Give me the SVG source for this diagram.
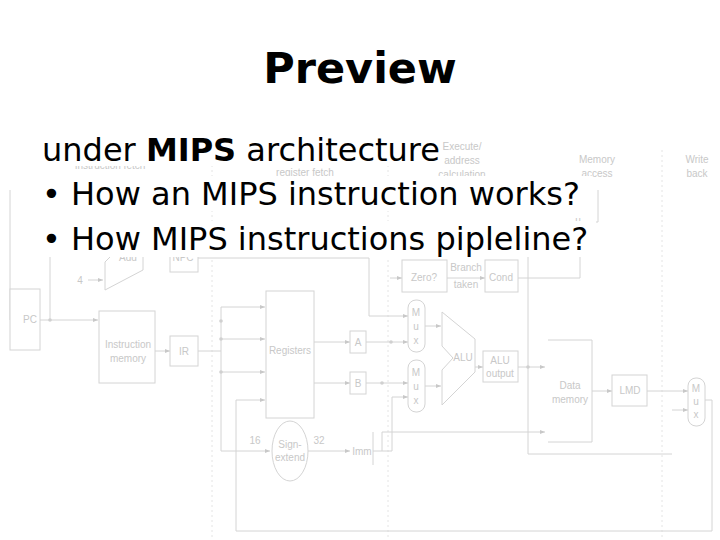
<svg xmlns="http://www.w3.org/2000/svg" width="720" height="540" viewBox="0 0 720 540">
<style>
.d{fill:none;stroke:#d4d4d4;stroke-width:1}
.b{fill:#fff;stroke:#d4d4d4;stroke-width:1}
.dash{stroke:#e4e4e4;stroke-width:1;stroke-dasharray:2 3}
.l{font-family:"Liberation Sans",Arial,sans-serif;font-size:10px;fill:#c8c8c8;text-anchor:middle}
.t{font-family:"DejaVu Sans",Verdana,sans-serif;font-size:32px;fill:#000}
</style>
<defs><marker id="a" markerWidth="6" markerHeight="6" refX="5" refY="3" orient="auto"><path d="M0,1 L5,3 L0,5z" fill="#c8c8c8"/></marker></defs>
<rect width="720" height="540" fill="#fff"/>
<g id="stages">
<line class="dash" x1="212" y1="150" x2="212" y2="540"/>
<line class="dash" x1="388" y1="150" x2="388" y2="540"/>
<line class="dash" x1="662" y1="150" x2="662" y2="540"/>
<text class="l" x="110" y="169">Instruction fetch</text>
<text class="l" x="305" y="162">Instruction decode/</text><text class="l" x="305" y="176">register fetch</text>
<text class="l" x="462" y="150">Execute/</text><text class="l" x="462" y="164">address</text><text class="l" x="462" y="178">calculation</text>
<text class="l" x="597" y="163">Memory</text><text class="l" x="597" y="177">access</text>
<text class="l" x="697" y="163">Write</text><text class="l" x="697" y="177">back</text>
</g>
<g id="connectors" class="d">
<path d="M10,190 V320 H30" marker-end="url(#a)"/>
<path d="M40,320 H98" marker-end="url(#a)"/>
<path d="M50,320 V238 H105" marker-end="url(#a)"/>
<path d="M88,280 H103" marker-end="url(#a)"/>
<path d="M143,247 H170" marker-end="url(#a)"/>
<path d="M155,351 H170" marker-end="url(#a)"/>
<path d="M198,351 H221"/>
<path d="M221,307 V451 H270" marker-end="url(#a)"/>
<path d="M221,307 H265" marker-end="url(#a)"/>
<path d="M221,339 H265" marker-end="url(#a)"/>
<path d="M221,372 H265" marker-end="url(#a)"/>
<path d="M236,400 H265" marker-end="url(#a)"/>
<path d="M236,400 V531 H712 V400 H705"/>
<path d="M314,342 H350" marker-end="url(#a)"/>
<path d="M314,383 H350" marker-end="url(#a)"/>
<path d="M308,451 H350" marker-end="url(#a)"/>
<path d="M198,258 H369 V316 H408" marker-end="url(#a)"/>
<path d="M366,342 H408" marker-end="url(#a)"/>
<path d="M366,383 H408" marker-end="url(#a)"/>
<path d="M373,451 H392 V397 H408" marker-end="url(#a)"/>
<path d="M382,451 V432 H545" marker-end="url(#a)"/>
<path d="M390,278 H402" marker-end="url(#a)"/>
<path d="M447,278 H485" marker-end="url(#a)"/>
<path d="M518,278 H580 V230" />
<path d="M425,326 H441" marker-end="url(#a)"/>
<path d="M425,386 H441" marker-end="url(#a)"/>
<path d="M475,367 H483" marker-end="url(#a)"/>
<path d="M518,367 H545" marker-end="url(#a)"/>
<path d="M528,230 V454 H672"/>
<path d="M592,391 H612" marker-end="url(#a)"/>
<path d="M647,391 H688" marker-end="url(#a)"/>
<path d="M672,410 H688" marker-end="url(#a)"/>
<path d="M598,190 V222 H585"/>
</g>
<g fill="#d0d0d0"><circle cx="50" cy="320" r="1.8"/><circle cx="221" cy="339" r="1.8"/><circle cx="221" cy="372" r="1.8"/><circle cx="221" cy="321" r="1.8"/><circle cx="391" cy="342" r="1.8"/><circle cx="382" cy="383" r="1.8"/><circle cx="528" cy="367" r="1.8"/></g>
<g id="pc"><rect class="b" x="10" y="289" width="30" height="61"/><text class="l" x="30" y="323">PC</text></g>
<g id="add"><path class="b" d="M105,225 L143,245 V270 L105,290 V262 L110,257 L105,252z"/><text class="l" x="128" y="261">Add</text><text class="l" x="80" y="284">4</text></g>
<g id="npc"><rect class="b" x="170" y="240" width="28" height="32"/><text class="l" x="183" y="261">NPC</text></g>
<g id="imem"><rect class="b" x="99" y="311" width="56" height="72"/><text class="l" x="128" y="348">Instruction</text><text class="l" x="128" y="362">memory</text></g>
<g id="ir"><rect class="b" x="170" y="336" width="28" height="30"/><text class="l" x="184" y="355">IR</text></g>
<g id="regs"><rect class="b" x="266" y="291" width="48" height="127"/><text class="l" x="290" y="354">Registers</text></g>
<g id="a"><rect class="b" x="350" y="331" width="16" height="22"/><text class="l" x="358" y="346">A</text></g>
<g id="b"><rect class="b" x="350" y="372" width="16" height="22"/><text class="l" x="358" y="387">B</text></g>
<g id="sext"><ellipse class="b" cx="290" cy="451" rx="18" ry="30"/><text class="l" x="290" y="448">Sign-</text><text class="l" x="290" y="461">extend</text><text class="l" x="255" y="444">16</text><text class="l" x="319" y="444">32</text></g>
<g id="imm"><path class="d" d="M373,432 V465"/><text class="l" x="362" y="455">Imm</text></g>
<g id="zero"><rect class="b" x="402" y="260" width="45" height="32"/><text class="l" x="424" y="281">Zero?</text><text class="l" x="466" y="271">Branch</text><text class="l" x="466" y="288">taken</text></g>
<g id="cond"><rect class="b" x="485" y="260" width="33" height="32"/><text class="l" x="501" y="281">Cond</text></g>
<g id="mux1"><rect class="b" x="408" y="300" width="17" height="52" rx="8"/><text class="l" x="416" y="316">M</text><text class="l" x="416" y="330">u</text><text class="l" x="416" y="344">x</text></g>
<g id="mux2"><rect class="b" x="408" y="360" width="17" height="52" rx="8"/><text class="l" x="416" y="376">M</text><text class="l" x="416" y="390">u</text><text class="l" x="416" y="404">x</text></g>
<g id="alu"><path class="b" d="M442,312 L475,339 V372 L442,405 V370 L453,358 L442,346z"/><text class="l" x="463" y="361">ALU</text></g>
<g id="aluout"><rect class="b" x="483" y="351" width="35" height="31"/><text class="l" x="500" y="364">ALU</text><text class="l" x="500" y="377">output</text></g>
<g id="dmem"><path class="d" d="M548,340 H592 V442 H548"/><text class="l" x="570" y="389">Data</text><text class="l" x="570" y="403">memory</text></g>
<g id="lmd"><rect class="b" x="612" y="375" width="35" height="31"/><text class="l" x="630" y="394">LMD</text></g>
<g id="mux3"><rect class="b" x="688" y="378" width="17" height="48" rx="8"/><text class="l" x="696" y="392">M</text><text class="l" x="696" y="405">u</text><text class="l" x="696" y="418">x</text></g>
<g id="mux0"><text class="l" x="578" y="224">u</text></g>
<g id="text">
<rect x="40" y="132" width="402" height="34" fill="#fff"/>
<rect x="40" y="176" width="552" height="35" fill="#fff"/>
<rect x="40" y="221" width="556" height="36" fill="#fff"/>
<text x="360" y="83" text-anchor="middle" font-family="DejaVu Sans,Verdana,sans-serif" font-size="43" font-weight="bold">Preview</text>
<text class="t" x="42" y="161">under <tspan font-weight="bold">MIPS</tspan> architecture</text>
<text class="t" x="42" y="205">• How an MIPS instruction works?</text>
<text class="t" x="42" y="250">• How MIPS instructions pipleline?</text>
</g>
</svg>
